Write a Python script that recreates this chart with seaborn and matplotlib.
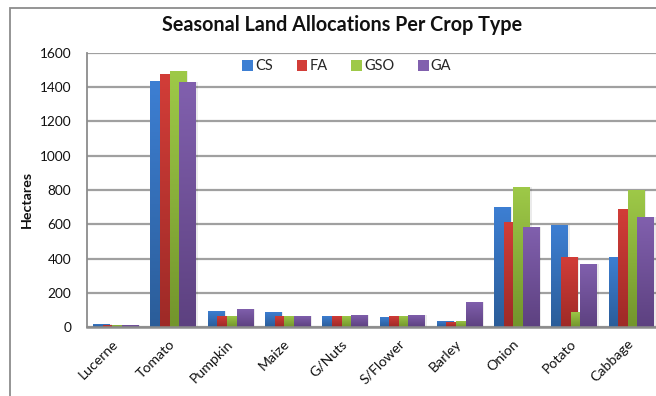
import numpy as np
import pandas as pd
import matplotlib
matplotlib.use("Agg")
import matplotlib.pyplot as plt
import seaborn as sns
from matplotlib.colors import LinearSegmentedColormap
from matplotlib.patches import Rectangle, Patch

# Land allocated (hectares) per crop under each seasonal scheme
crops = ["Lucerne", "Tomato", "Pumpkin", "Maize", "G/Nuts",
         "S/Flower", "Barley", "Onion", "Potato", "Cabbage"]
series = ["CS", "FA", "GSO", "GA"]
cs = [19, 1434, 95, 89, 67, 62, 37, 700, 595, 409]
fa = [14, 1478, 66, 66, 67, 67, 33, 614, 409, 688]
gso = [12, 1492, 66, 66, 67, 67, 37, 817, 89, 802]
ga = [13, 1428, 106, 66, 73, 73, 147, 583, 368, 641]
y_ticks = [0, 200, 400, 600, 800, 1000, 1200, 1400, 1600]

# (top, bottom) colour of each series' vertical gradient
shades = {
    "CS": ("#3d7fd3", "#2b5d99"),
    "FA": ("#d23d38", "#9e2a27"),
    "GSO": ("#9ec948", "#73952c"),
    "GA": ("#8160ae", "#5d4180"),
}

df = pd.DataFrame({
    "Crop": crops * 4,
    "Series": sum([[s] * len(crops) for s in series], []),
    "Hectares": cs + fa + gso + ga,
})

W, H = 656, 396
fig = plt.figure(figsize=(W / 100, H / 100), dpi=100)
sns.set_style("white")
plt.rcParams["font.family"] = ["Lato", "DejaVu Sans"]

ax = fig.add_axes([87.3 / W, 1 - 327.3 / H, 572.7 / W, 274.6 / H])
sns.barplot(data=df, x="Crop", y="Hectares", hue="Series", order=crops,
            hue_order=series, palette=[shades[s][0] for s in series],
            ax=ax, legend=False, errorbar=None, saturation=1)

# overlapping clustered bars, each with its own top-to-bottom gradient
bar_w, step = 0.29, 0.168
grad = np.linspace(0, 1, 128).reshape(-1, 1)
for i, (name, cont) in enumerate(zip(series, ax.containers)):
    top, bottom = shades[name]
    cmap = LinearSegmentedColormap.from_list(name, [bottom, top])
    off = (i - 1.5) * step
    for j, bar in enumerate(cont):
        x0 = j + off - bar_w / 2
        h = bar.get_height()
        bar.set_x(x0)
        bar.set_width(bar_w)
        bar.set_linewidth(0)
        bar.set_zorder(3 + i)
        # soft shadow to the lower right
        sh = Rectangle((x0 + 0.03, 0), bar_w, h, facecolor="#000000",
                       alpha=0.08, lw=0, zorder=2.5 + i)
        ax.add_patch(sh)
        im = ax.imshow(grad, extent=[x0, x0 + bar_w, 0, h], origin="lower",
                       aspect="auto", cmap=cmap, zorder=3.5 + i,
                       interpolation="bilinear")
        im.set_clip_path(bar)

ax.set_xlim(-0.5, 9.5)
ax.set_ylim(0, 1600)
ax.set_yticks(y_ticks)
ax.set_yticklabels([str(t) for t in y_ticks], fontsize=9.8, color="#111111")
ax.set_xticks(range(len(crops)))
ax.set_xticklabels(crops, rotation=45, ha="right", va="center",
                   rotation_mode="anchor", fontsize=10.2, color="#111111")
ax.tick_params(axis="y", length=0, pad=11.5)
ax.tick_params(axis="x", length=0, pad=10.5)
ax.set_xlabel("")
ax.set_ylabel("")

ax.yaxis.grid(True, color="#a0a0a0", lw=1.6, zorder=0)
ax.set_axisbelow(True)
for side in ["top", "right"]:
    ax.spines[side].set_visible(False)
ax.spines["left"].set_color("#8c8c8c")
ax.spines["left"].set_linewidth(1.3)
ax.spines["bottom"].set_color("#8c8c8c")
ax.spines["bottom"].set_linewidth(1.8)
ax.spines["bottom"].set_zorder(10)

handles = [Patch(facecolor=shades[s][0], edgecolor="none") for s in series]
ax.legend(handles, series, loc="center", bbox_to_anchor=(0.453, 0.95),
          ncol=4, frameon=False, fontsize=10.5, handlelength=0.73,
          handleheight=0.73, handletextpad=0.14, columnspacing=1.64,
          borderpad=0)

fig.text(342 / W, 1 - 25 / H, "Seasonal Land Allocations Per Crop Type",
         ha="center", va="center", fontsize=14.2, fontweight="bold",
         color="#111111")
fig.text(27 / W, 1 - 199 / H, "Hectares", ha="center", va="center",
         rotation=90, fontsize=10.3, fontweight="bold", color="#111111")

# chart-area border
fig.add_artist(Rectangle((9.5 / W, -0.1), 1.2, 1 - 7.5 / H + 0.1,
                         transform=fig.transFigure, fill=False,
                         edgecolor="#8c8c8c", lw=1.3))

fig.savefig("out.png", dpi=100)
